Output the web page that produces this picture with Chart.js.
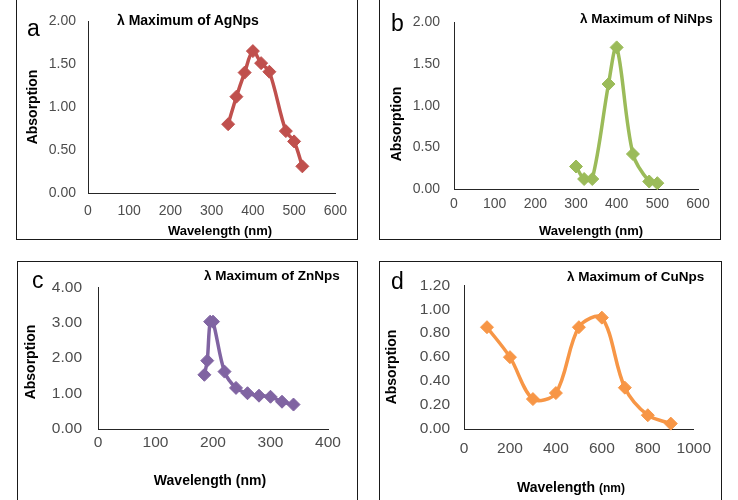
<!DOCTYPE html>
<html>
<head>
<meta charset="utf-8">
<script src="https://cdn.jsdelivr.net/npm/chart.js@4.4.1/dist/chart.umd.min.js"></script>
<style>
  body { margin: 0; width: 738px; height: 500px; position: relative; overflow: hidden; background: #fff;
         font-family: Arial, "Liberation Sans", sans-serif; color: #000; }
  .panel { position: absolute; border: 1px solid #1a1a1a; box-sizing: border-box; }
  canvas { position: absolute; }
  .letter { position: absolute; font-size: 23px; line-height: 1; }
  .title { position: absolute; font-weight: bold; line-height: 1; white-space: nowrap; transform: translateY(-50%); }
  .xt { position: absolute; font-weight: bold; line-height: 1; white-space: nowrap; transform: translate(-50%, -50%); }
  .yt { position: absolute; font-weight: bold; font-size: 14px; line-height: 1; white-space: nowrap;
        transform: translate(-50%, -50%) rotate(-90deg); }
</style>
</head>
<body>

<div class="panel" style="left:16px;top:-1px;width:342px;height:241px"></div>
<div class="panel" style="left:379px;top:-1px;width:342px;height:241px"></div>
<div class="panel" style="left:17px;top:261px;width:341px;height:241px"></div>
<div class="panel" style="left:379px;top:261px;width:343px;height:241px"></div>

<canvas id="chartA" width="340" height="238" style="left:17px;top:0px"></canvas>
<canvas id="chartB" width="340" height="238" style="left:380px;top:0px"></canvas>
<canvas id="chartC" width="339" height="238" style="left:18px;top:262px"></canvas>
<canvas id="chartD" width="341" height="238" style="left:380px;top:262px"></canvas>

<div class="letter" style="left:27px;top:17px">a</div>
<div class="letter" style="left:391px;top:12px">b</div>
<div class="letter" style="left:32px;top:269px">c</div>
<div class="letter" style="left:391px;top:270px">d</div>

<div class="title" style="left:117px;top:20px;font-size:14px">λ Maximum of AgNps</div>
<div class="title" style="left:580px;top:19px;font-size:13.5px">λ Maximum of NiNps</div>
<div class="title" style="left:204px;top:276px;font-size:13.5px">λ Maximum of ZnNps</div>
<div class="title" style="left:567px;top:277px;font-size:13.5px">λ Maximum of CuNps</div>

<div class="yt" style="left:32px;top:107px">Absorption</div>
<div class="yt" style="left:396px;top:124px">Absorption</div>
<div class="yt" style="left:30px;top:362px">Absorption</div>
<div class="yt" style="left:391px;top:367px">Absorption</div>

<div class="xt" style="left:220px;top:230px;font-size:13px">Wavelength (nm)</div>
<div class="xt" style="left:591px;top:230px;font-size:13px">Wavelength (nm)</div>
<div class="xt" style="left:210px;top:480px;font-size:14px">Wavelength (nm)</div>
<div class="xt" style="left:571px;top:487px;font-size:14px">Wavelength <span style="font-size:12px">(nm)</span></div>

<script>
// Silver nanoparticles (a)
const agWavelength = [340, 360, 380, 400, 420, 440, 480, 500, 520];
const agAbsorption = [0.80, 1.12, 1.40, 1.65, 1.51, 1.41, 0.72, 0.60, 0.31];

// Nickel nanoparticles (b)
const niWavelength = [300, 320, 340, 380, 400, 440, 480, 500];
const niAbsorption = [0.27, 0.12, 0.12, 1.26, 1.70, 0.42, 0.09, 0.07];

// Zinc nanoparticles (c)
const znWavelength = [185, 190, 195, 200, 220, 240, 260, 280, 300, 320, 340];
const znAbsorption = [1.53, 1.93, 3.03, 3.03, 1.62, 1.16, 1.01, 0.94, 0.91, 0.77, 0.69];

// Copper nanoparticles (d)
const cuWavelength = [100, 200, 300, 400, 500, 600, 700, 800, 900];
const cuAbsorption = [0.85, 0.60, 0.25, 0.30, 0.85, 0.93, 0.345, 0.115, 0.045];

// Axis ranges
const agAxis = { xMax: 600, xStep: 100, yMax: 2.0, yStep: 0.5 };
const niAxis = { xMax: 600, xStep: 100, yMax: 2.0, yStep: 0.5 };
const znAxis = { xMax: 400, xStep: 100, yMax: 4.0, yStep: 1.0 };
const cuAxis = { xMax: 1000, xStep: 200, yMax: 1.2, yStep: 0.2 };

function toPoints(xs, ys) {
    return xs.map((x, i) => ({ x: x, y: ys[i] }));
}

// Build one panel chart; box = plot area inside the canvas
function makeChart(id, xs, ys, color, axis, box) {
    const canvas = document.getElementById(id);
    const ctx = canvas.getContext('2d');
    return new Chart(ctx, {
        type: 'line',
        data: {
            datasets: [{
                data: toPoints(xs, ys),
                borderColor: color,
                backgroundColor: color,
                borderWidth: 3.5,
                tension: 0.33,
                pointStyle: 'rectRot',
                pointRadius: 6.5,
                pointBorderWidth: 1,
                pointBackgroundColor: color,
                pointBorderColor: color,
                clip: false
            }]
        },
        options: {
            responsive: false,
            animation: false,
            layout: {
                padding: { left: 0, bottom: 0, top: box.top, right: canvas.width - box.right }
            },
            plugins: { legend: { display: false }, tooltip: { enabled: false } },
            scales: {
                x: {
                    type: 'linear',
                    min: 0,
                    max: axis.xMax,
                    afterFit: s => { s.height = canvas.height - box.bottom; },
                    grid: { drawOnChartArea: false, drawTicks: false },
                    border: { color: '#262626', width: 1 },
                    ticks: {
                        stepSize: axis.xStep,
                        color: '#4d4d4d',
                        padding: box.xPad,
                        maxRotation: 0,
                        callback: v => String(v),
                        font: { family: 'Arial, "Liberation Sans"', size: box.font }
                    }
                },
                y: {
                    min: 0,
                    max: axis.yMax,
                    afterFit: s => { s.width = box.left; },
                    grid: { drawOnChartArea: false, drawTicks: false },
                    border: { color: '#262626', width: 1 },
                    ticks: {
                        stepSize: axis.yStep,
                        color: '#4d4d4d',
                        padding: box.yPad,
                        callback: v => v.toFixed(2),
                        font: { family: 'Arial, "Liberation Sans"', size: box.font }
                    }
                }
            }
        }
    });
}

makeChart('chartA', agWavelength, agAbsorption, '#C0504D', agAxis,
    { left: 71, right: 319, top: 21, bottom: 193, xPad: 10, yPad: 12, font: 14 });
makeChart('chartB', niWavelength, niAbsorption, '#9BBB59', niAxis,
    { left: 74, right: 318, top: 11, bottom: 189, xPad: 7, yPad: 14, font: 14 });
makeChart('chartC', znWavelength, znAbsorption, '#8064A2', znAxis,
    { left: 80, right: 310, top: 19, bottom: 167, xPad: 4, yPad: 16, font: 15.5 });
makeChart('chartD', cuWavelength, cuAbsorption, '#F79646', cuAxis,
    { left: 84, right: 314, top: 14, bottom: 167, xPad: 10, yPad: 14, font: 15.5 });
</script>
</body>
</html>
